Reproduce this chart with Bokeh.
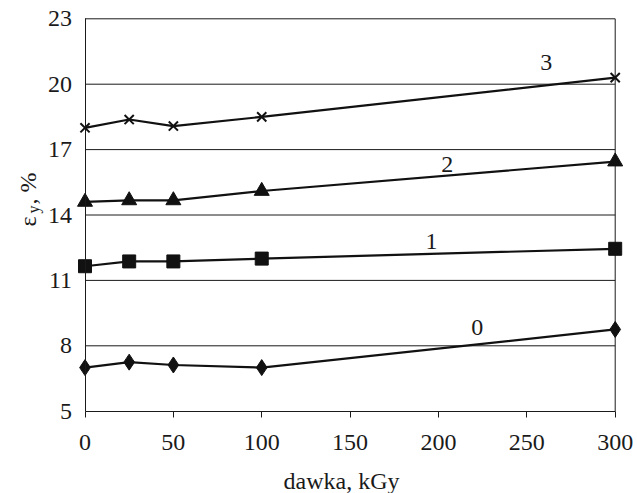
import math
from bokeh.plotting import figure
from bokeh.models import Label, FixedTicker, Range1d
from bokeh.embed import file_html
from bokeh.resources import INLINE

dose = [0, 25, 50, 100, 300]
s0 = [7.0, 7.25, 7.12, 7.0, 8.75]
s1 = [11.65, 11.87, 11.87, 12.0, 12.45]
s2 = [14.6, 14.67, 14.67, 15.1, 16.45]
s3 = [18.0, 18.38, 18.08, 18.5, 20.3]
series_names = ["0", "1", "2", "3"]
x_ticks = [0, 50, 100, 150, 200, 250, 300]
y_ticks = [5, 8, 11, 14, 17, 20, 23]

FONT = "Liberation Serif"
INK = "#1a1a1a"

# page geometry (canvas pixels) of the plotting box
W, H = 637, 493
BOX_L, BOX_R, BOX_T, BOX_B = 84.5, 614.7, 18.3, 410.7
xmin, xmax = x_ticks[0], x_ticks[-1]
ymin, ymax = y_ticks[0], y_ticks[-1]
kx = (BOX_R - BOX_L) / (xmax - xmin)
ky = (BOX_B - BOX_T) / (ymax - ymin)

def sx2d(px):
    return xmin + (px - BOX_L) / kx

def sy2d(py):
    return ymax - (py - BOX_T) / ky

p = figure(width=W, height=H, output_backend="svg", toolbar_location=None,
           x_range=Range1d(sx2d(0), sx2d(W)), y_range=Range1d(sy2d(H), sy2d(0)),
           min_border=0, min_border_left=0, min_border_right=0,
           min_border_top=0, min_border_bottom=0)
p.background_fill_color = "white"
p.border_fill_color = "white"
p.outline_line_color = None
p.xgrid.grid_line_color = None
p.ygrid.grid_line_color = None

# axes placed at the data origin of the box
p.xaxis.fixed_location = ymin
p.yaxis.fixed_location = xmin
p.xaxis.bounds = (xmin, xmax)
p.yaxis.bounds = (ymin, ymax)
p.xaxis.ticker = FixedTicker(ticks=x_ticks)
p.yaxis.ticker = FixedTicker(ticks=y_ticks)
p.xaxis.minor_tick_line_color = None
p.yaxis.minor_tick_line_color = None
p.xaxis.major_tick_in = 0
p.xaxis.major_tick_out = 6
p.yaxis.major_tick_in = 0
p.yaxis.major_tick_out = 0
for ax in (p.xaxis, p.yaxis):
    ax.axis_line_color = INK
    ax.axis_line_width = 1
    ax.major_tick_line_color = INK
    ax.major_label_text_font = FONT
    ax.major_label_text_font_size = "24px"
    ax.major_label_text_color = INK
p.xaxis.major_label_standoff = 18
p.yaxis.major_label_standoff = 13

# horizontal grid lines and right border of the box
p.segment(x0=xmin, x1=xmax, y0=y_ticks[1:], y1=y_ticks[1:],
          line_color=INK, line_width=1)
p.segment(x0=[xmax], x1=[xmax], y0=[ymin], y1=[ymax],
          line_color=INK, line_width=1)

lw = 2.2
col = "#111111"
p.line(dose, s0, line_color=col, line_width=lw)
p.scatter(dose, s0, marker="diamond", size=16, fill_color=col, line_color=col)
p.line(dose, s1, line_color=col, line_width=lw)
p.scatter(dose, s1, marker="square", size=13, fill_color=col, line_color=col)
p.line(dose, s2, line_color=col, line_width=lw)
p.scatter(dose, s2, marker="triangle", size=15, fill_color=col, line_color=col)
p.line(dose, s3, line_color=col, line_width=lw)
p.scatter(dose, s3, marker="x", size=13, line_color=col, line_width=2)

# series labels
lab_x = [222, 196, 205, 261]
lab_y = [8.85, 12.8, 16.3, 21.0]
for name, lx, ly in zip(series_names, lab_x, lab_y):
    p.add_layout(Label(x=lx, y=ly, text=name, text_font=FONT,
                       text_font_size="24px", text_color=INK,
                       text_align="center", text_baseline="middle"))

# x axis title
p.add_layout(Label(x=sx2d(341), y=sy2d(480), text="dawka, kGy",
                   text_font=FONT, text_font_size="24px", text_color=INK,
                   text_align="center", text_baseline="middle"))

# y axis title: "ε" with subscript "y", then ", %" (rotated)
ang = math.pi / 2
p.add_layout(Label(x=sx2d(27), y=sy2d(226), text="ε", angle=ang,
                   text_font=FONT, text_font_size="24px",
                   text_color=INK, text_align="left",
                   text_baseline="alphabetic"))
p.add_layout(Label(x=sx2d(33), y=sy2d(213), text="y", angle=ang,
                   text_font=FONT, text_font_size="16px",
                   text_color=INK, text_align="left",
                   text_baseline="alphabetic"))
p.add_layout(Label(x=sx2d(27), y=sy2d(204), text=", %", angle=ang,
                   text_font=FONT, text_font_size="24px",
                   text_color=INK, text_align="left",
                   text_baseline="alphabetic"))

open("out.html", "w").write(file_html(p, INLINE))
